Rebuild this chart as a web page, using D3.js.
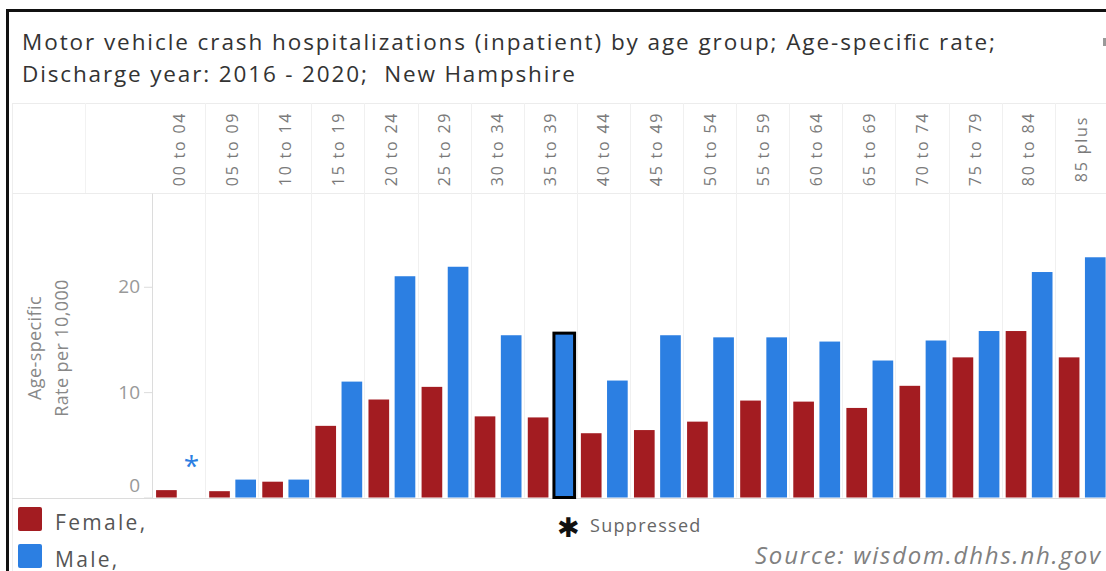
<!DOCTYPE html>
<html>
<head>
<meta charset="utf-8">
<script src="https://cdn.jsdelivr.net/npm/d3@7"></script>
<style>
  html, body { margin: 0; padding: 0; background: #fff; }
  svg { display: block; font-family: "Open Sans", sans-serif; }
</style>
</head>
<body>
<svg id="chart" width="1106" height="571"></svg>
<script>
const AGE_GROUPS = ["00 to 04", "05 to 09", "10 to 14", "15 to 19", "20 to 24", "25 to 29",
  "30 to 34", "35 to 39", "40 to 44", "45 to 49", "50 to 54", "55 to 59",
  "60 to 64", "65 to 69", "70 to 74", "75 to 79", "80 to 84", "85 plus"];
const SEXES = ["Female", "Male"];
const femaleRate = [0.7, 0.6, 1.5, 6.8, 9.3, 10.5, 7.7, 7.6, 6.1, 6.4, 7.2, 9.2, 9.1, 8.5, 10.6, 13.3, 15.8, 13.3];
// null = suppressed
const maleRate = [null, 1.7, 1.7, 11.0, 21.0, 21.9, 15.4, 15.6, 11.1, 15.4, 15.2, 15.2, 14.8, 13.0, 14.9, 15.8, 21.4, 22.8];
const yTicks = [0, 10, 20];
const TITLE_LINES = [
  "Motor vehicle crash hospitalizations (inpatient) by age group; Age-specific rate;",
  "Discharge year: 2016 - 2020;  New Hampshire"
];
const highlighted = { age: "35 to 39", sex: "Male" };

const COLORS = { Female: "#a31c21", Male: "#2c7fe2" };

const rows = [];
AGE_GROUPS.forEach((age, i) => {
  rows.push({ age, sex: "Female", value: femaleRate[i] });
  rows.push({ age, sex: "Male", value: maleRate[i] });
});

const svg = d3.select("#chart");

const pane = { left: 152, top: 193, bottom: 497.5, headerTop: 103 };
const colW = 53.1;

const x = d3.scaleBand()
  .domain(AGE_GROUPS)
  .range([pane.left, pane.left + colW * AGE_GROUPS.length]);

const xSex = d3.scaleBand()
  .domain(SEXES)
  .range([0, x.bandwidth()])
  .paddingInner(0.21)
  .paddingOuter(0.12)
  .align(0.65);

const y = d3.scaleLinear()
  .domain([0, 28.9])
  .range([pane.bottom, pane.top]);

// frame + grid lines
const grid = svg.append("g").attr("stroke-width", 1).attr("fill", "none");

grid.append("line")
  .attr("x1", 12.5).attr("x2", 12.5).attr("y1", pane.headerTop).attr("y2", 571)
  .attr("stroke", "#eeeeee");

[pane.headerTop, pane.top].forEach(yy => {
  grid.append("line")
    .attr("x1", 12).attr("x2", 1106).attr("y1", yy + 0.5).attr("y2", yy + 0.5)
    .attr("stroke", "#ececec");
});

grid.selectAll(".col-div")
  .data(AGE_GROUPS.slice(1))
  .join("line")
  .attr("class", "col-div")
  .attr("x1", d => Math.round(x(d)) + 0.5)
  .attr("x2", d => Math.round(x(d)) + 0.5)
  .attr("y1", pane.headerTop)
  .attr("y2", pane.bottom)
  .attr("stroke", "#f0f0f0");

grid.append("line")
  .attr("x1", 85.5).attr("x2", 85.5).attr("y1", pane.headerTop).attr("y2", pane.top)
  .attr("stroke", "#f2f2f2");

grid.append("line")
  .attr("x1", 12).attr("x2", 1106).attr("y1", pane.bottom + 1).attr("y2", pane.bottom + 1)
  .attr("stroke", "#dcdcdc");

// black outer frame
svg.append("path")
  .attr("d", "M7.5,571 V10.5 H1106")
  .attr("fill", "none")
  .attr("stroke", "#111")
  .attr("stroke-width", 3);

svg.append("rect")
  .attr("x", 1103).attr("y", 38).attr("width", 3).attr("height", 8)
  .attr("fill", "#999");

// title - Tableau's font runs wider than Open Sans, so stretch the spacing
const titleWidths = [973, 553];
svg.append("text")
  .attr("fill", "#333")
  .attr("font-size", 22.5)
  .selectAll("tspan")
  .data(TITLE_LINES)
  .join("tspan")
  .attr("x", 22)
  .attr("y", (d, i) => 50 + i * 32)
  .attr("textLength", (d, i) => titleWidths[i])
  .attr("lengthAdjust", "spacing")
  .style("white-space", "pre")
  .text(d => d);

// column headers
svg.append("g")
  .selectAll("text")
  .data(AGE_GROUPS)
  .join("text")
  .attr("transform", d => `translate(${x(d) + x.bandwidth() / 2 + 6}, 149) rotate(-90)`)
  .attr("text-anchor", "middle")
  .attr("fill", "#7a7a7a")
  .attr("font-size", 16)
  .attr("letter-spacing", 1.8)
  .text(d => d);

// y axis
const yAxis = svg.append("g")
  .attr("transform", `translate(${pane.left},0)`)
  .call(d3.axisLeft(y).tickValues(yTicks).tickSize(8).tickSizeOuter(0).tickPadding(4));

yAxis.select(".domain").attr("stroke", "#dcdcdc");
yAxis.selectAll(".tick line").attr("stroke", "#dcdcdc");
yAxis.selectAll(".tick text")
  .attr("fill", "#999")
  .attr("font-size", 19)
  .attr("font-family", "Open Sans, sans-serif")
  .attr("dy", d => d === 0 ? "-0.3em" : "0.32em");

svg.append("text")
  .attr("transform", "translate(0,348) rotate(-90)")
  .attr("text-anchor", "middle")
  .attr("fill", "#888")
  .attr("font-size", 18)
  .attr("letter-spacing", 0.4)
  .selectAll("tspan")
  .data(["Age-specific", "Rate per 10,000"])
  .join("tspan")
  .attr("x", 0)
  .attr("y", (d, i) => 41 + i * 27)
  .text(d => d);

// bars
const bars = svg.append("g");

bars.selectAll("rect")
  .data(rows.filter(d => d.value != null))
  .join("rect")
  .attr("x", d => x(d.age) + xSex(d.sex))
  .attr("width", xSex.bandwidth())
  .attr("y", d => y(d.value))
  .attr("height", d => y(0) - y(d.value))
  .attr("fill", d => COLORS[d.sex]);

bars.selectAll(".suppressed")
  .data(rows.filter(d => d.value == null))
  .join("text")
  .attr("class", "suppressed")
  .attr("x", d => x(d.age) + xSex(d.sex) + xSex.bandwidth() / 2 - 1)
  .attr("y", y(0) - 22)
  .attr("text-anchor", "middle")
  .attr("fill", d => COLORS[d.sex])
  .attr("font-size", 28)
  .text("*");

const hi = rows.find(d => d.age === highlighted.age && d.sex === highlighted.sex);
bars.append("rect")
  .attr("x", x(hi.age) + xSex(hi.sex))
  .attr("width", xSex.bandwidth())
  .attr("y", y(hi.value))
  .attr("height", y(0) - y(hi.value))
  .attr("fill", "none")
  .attr("stroke", "#000")
  .attr("stroke-width", 3);

// legend
const legend = svg.append("g")
  .selectAll("g")
  .data(SEXES)
  .join("g")
  .attr("transform", (d, i) => `translate(18, ${507 + i * 37})`);

legend.append("rect")
  .attr("width", 24).attr("height", 24).attr("rx", 2)
  .attr("fill", d => COLORS[d]);

legend.append("text")
  .attr("x", 37)
  .attr("y", 23)
  .attr("fill", "#555")
  .attr("font-size", 21)
  .attr("letter-spacing", 2.3)
  .text(d => d + ",");

svg.append("text")
  .attr("x", 568).attr("y", 537)
  .attr("text-anchor", "middle")
  .attr("font-size", 27)
  .attr("fill", "#111")
  .text("\u2731");

svg.append("text")
  .attr("x", 590).attr("y", 532)
  .attr("fill", "#666")
  .attr("font-size", 18)
  .attr("letter-spacing", 1.3)
  .text("Suppressed");

svg.append("text")
  .attr("x", 755).attr("y", 564)
  .attr("fill", "#808080")
  .attr("font-size", 24)
  .attr("font-style", "italic")
  .attr("textLength", 345)
  .attr("lengthAdjust", "spacing")
  .text("Source: wisdom.dhhs.nh.gov");
</script>
</body>
</html>
